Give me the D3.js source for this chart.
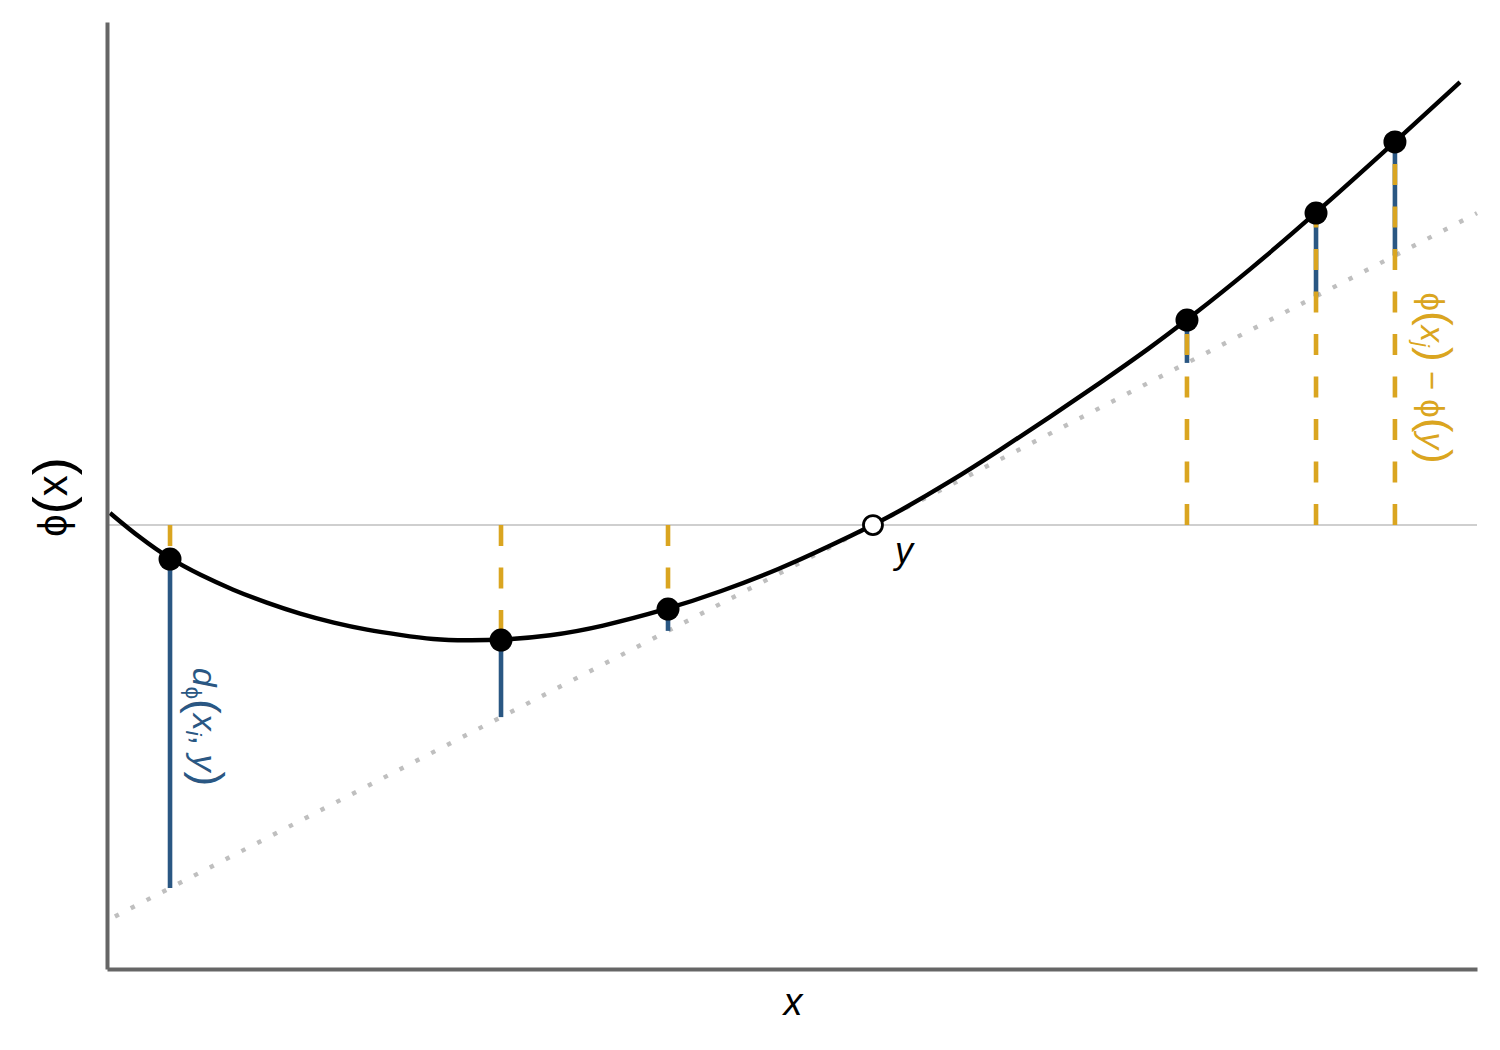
<!DOCTYPE html>
<html>
<head>
<meta charset="utf-8">
<script src="https://cdn.jsdelivr.net/npm/d3@7"></script>
<style>
  html, body { margin: 0; padding: 0; background: #fff; }
  svg { display: block; }
</style>
</head>
<body>
<svg id="chart" width="1500" height="1050"></svg>
<script>
// ---- data ----
// convex function phi(x), sampled along the curve
const curveX   = [0.022, 0.241, 0.460, 0.679, 0.920, 1.168, 1.409, 1.657, 1.898, 2.139, 2.380, 2.628, 2.876, 3.234, 3.599, 4.095, 4.474, 4.912, 5.277, 5.591, 5.788, 6.153, 6.518, 6.883, 7.248, 7.613, 7.883, 8.343, 8.825, 9.401, 9.876];
const curvePhi = [4.815, 4.551, 4.329, 4.161, 4.002, 3.865, 3.749, 3.654, 3.580, 3.527, 3.479, 3.469, 3.474, 3.516, 3.611, 3.801, 3.981, 4.224, 4.467, 4.688, 4.836, 5.143, 5.480, 5.829, 6.188, 6.558, 6.853, 7.381, 7.983, 8.733, 9.366];
// sample points x_i and phi(x_i)
const pointX   = [0.460, 2.876, 4.095, 7.883, 8.825, 9.401];
const pointPhi = [4.329, 3.474, 3.801, 6.853, 7.983, 8.733];
// reference point y, phi(y) and slope phi'(y) of the tangent
const refX = 5.591;
const refPhi = 4.688;
const refSlope = 0.747;
// tangent line drawn between these x positions
const tangentRange = [0.058, 10];

// ---- layout ----
const svg = d3.select("#chart");
const xScale = d3.scaleLinear().domain([0, 10]).range([107, 1477]);
const yScale = d3.scaleLinear().domain([0, 10]).range([969, 22]);

const blue = "#2a5783";
const gold = "#daa520";
const grey = "#bfbfbf";
const tangentAt = x => refPhi + refSlope * (x - refX);

// horizontal line at phi(y)
svg.append("line")
  .attr("x1", xScale(0)).attr("x2", xScale(10))
  .attr("y1", yScale(refPhi)).attr("y2", yScale(refPhi))
  .attr("stroke", grey).attr("stroke-width", 1.6);

// tangent (dotted)
svg.append("line")
  .attr("x1", xScale(tangentRange[0])).attr("y1", yScale(tangentAt(tangentRange[0])))
  .attr("x2", xScale(tangentRange[1])).attr("y2", yScale(tangentAt(tangentRange[1])))
  .attr("stroke", grey).attr("stroke-width", 4.4)
  .attr("stroke-dasharray", "4.4,13.4");

// blue: Bregman divergence segments phi(x_i) -> tangent
svg.append("g").selectAll("line").data(pointX).join("line")
  .attr("x1", d => xScale(d)).attr("x2", d => xScale(d))
  .attr("y1", (d, i) => yScale(pointPhi[i]))
  .attr("y2", d => yScale(tangentAt(d)))
  .attr("stroke", blue).attr("stroke-width", 4.6);

// gold dashed: phi(y) -> phi(x_i)
svg.append("g").selectAll("line").data(pointX).join("line")
  .attr("x1", d => xScale(d)).attr("x2", d => xScale(d))
  .attr("y1", yScale(refPhi))
  .attr("y2", (d, i) => yScale(pointPhi[i]))
  .attr("stroke", gold).attr("stroke-width", 4.6)
  .attr("stroke-dasharray", "21,21.5");

// curve
const curveData = curveX.map((x, i) => [x, curvePhi[i]]);
svg.append("path")
  .datum(curveData)
  .attr("d", d3.line().x(d => xScale(d[0])).y(d => yScale(d[1])).curve(d3.curveBasis))
  .attr("fill", "none").attr("stroke", "#000").attr("stroke-width", 4.4);

// points
svg.append("g").selectAll("circle").data(pointX).join("circle")
  .attr("cx", d => xScale(d))
  .attr("cy", (d, i) => yScale(pointPhi[i]))
  .attr("r", 11.5).attr("fill", "#000");

svg.append("circle")
  .attr("cx", xScale(refX)).attr("cy", yScale(refPhi))
  .attr("r", 9.5).attr("fill", "#fff").attr("stroke", "#000").attr("stroke-width", 2.8);

// axes (lines only)
const xAxis = d3.axisBottom(xScale).tickValues([]).tickSizeOuter(0);
const yAxis = d3.axisLeft(yScale).tickValues([]).tickSizeOuter(0);
svg.append("g").attr("transform", `translate(0,${yScale(0)})`).call(xAxis)
  .select(".domain").attr("stroke", "#666").attr("stroke-width", 4);
svg.append("g").attr("transform", `translate(${xScale(0)},0)`).call(yAxis)
  .select(".domain").attr("stroke", "#666").attr("stroke-width", 4);

const font = "'Liberation Sans', 'DejaVu Sans', sans-serif";

// axis titles
svg.append("text")
  .attr("x", 793).attr("y", 1015)
  .attr("text-anchor", "middle")
  .attr("font-family", font).attr("font-size", 38).attr("font-style", "italic")
  .text("x");

const yt = svg.append("text")
  .attr("transform", "translate(67,497) rotate(-90)")
  .attr("text-anchor", "middle")
  .attr("font-family", font).attr("font-size", 40);
yt.append("tspan").text("ϕ");
yt.append("tspan").attr("font-size", 54).attr("dy", 4).text("(");
yt.append("tspan").attr("font-size", 42).attr("dy", -4).text("x");
yt.append("tspan").attr("font-size", 54).attr("dy", 4).text(")");

// y label at the reference point
svg.append("text")
  .attr("x", 895).attr("y", 563)
  .attr("font-family", font).attr("font-size", 36).attr("font-style", "italic")
  .text("y");

// blue label  d_phi(x_i, y)
const bl = svg.append("text")
  .attr("transform", "translate(193,727) rotate(90)")
  .attr("text-anchor", "middle")
  .attr("font-family", font).attr("font-size", 34).attr("fill", blue);
bl.append("tspan").attr("font-style", "italic").text("d");
bl.append("tspan").attr("font-size", 22).attr("dy", 7).text("ϕ");
bl.append("tspan").attr("font-size", 44).attr("dy", -3).text("(");
bl.append("tspan").attr("font-style", "italic").attr("dy", -4).text("x");
bl.append("tspan").attr("font-style", "italic").attr("font-size", 22).attr("dy", 7).text("i");
bl.append("tspan").attr("dy", -7).text(", ");
bl.append("tspan").attr("font-style", "italic").text("y");
bl.append("tspan").attr("font-size", 44).text(")");

// gold label  phi(x_j) - phi(y)
const gl = svg.append("text")
  .attr("transform", "translate(1421,378) rotate(90)")
  .attr("text-anchor", "middle")
  .attr("font-family", font).attr("font-size", 33).attr("fill", gold);
gl.append("tspan").text("ϕ");
gl.append("tspan").attr("font-size", 44).text("(");
gl.append("tspan").attr("font-style", "italic").text("x");
gl.append("tspan").attr("font-style", "italic").attr("font-size", 22).attr("dy", 7).text("j");
gl.append("tspan").attr("font-size", 44).attr("dy", -7).text(")");
gl.append("tspan").text(" − ϕ");
gl.append("tspan").attr("font-size", 44).text("(");
gl.append("tspan").attr("font-style", "italic").text("y");
gl.append("tspan").attr("font-size", 44).text(")");
</script>
</body>
</html>
